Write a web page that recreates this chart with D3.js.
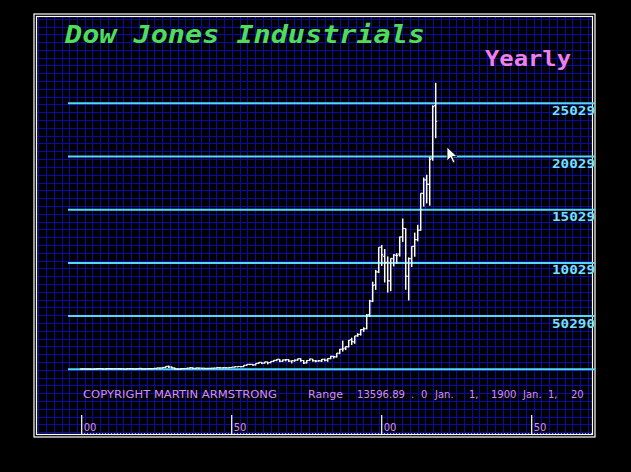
<!DOCTYPE html>
<html><head><meta charset="utf-8">
<script src="https://cdn.jsdelivr.net/npm/d3@7"></script>
<style>html,body{margin:0;padding:0;background:#000;overflow:hidden}</style>
</head><body>
<svg id="c" width="631" height="472"></svg>
<script>
const years = d3.range(1900, 2019);
const opens = [68.1,70.4,64.3,64,48,70,96,94,58.8,86,98,82,81,88,79,54.6,99,95,74,82,107,72,81,98,95,120,157,156,203,307,244,169,74.6,59.3,100,104.5,144,178.5,121,154,151,131,112,119.9,136,152.6,192,176.4,181,176,199,237,269,292,280,408,485,499,439,587,679,610,724,647,766,869,969,786,908,947,809,830,889,1031,855,632,858,999,817,811,824,972,882,1027,1252,1198,1537,1927,2015,2144,2810,2610,3172,3309,3756,3838,5177,6442,7965,9184,11501,10646,10073,8342,10409,10730,10847,12474,13262,8772,10430,11577,12221,13104,16572,17823,17405,19881,24809];
const highs = [71,78,68,67.7,73.2,96.6,103,96.4,88.4,100.5,98.3,87,94.2,88.6,83.4,99.2,110.2,99.2,89.1,119.6,109.9,81.5,103.4,105.4,120.5,159.4,166.6,202.4,300,381.2,294,194.4,88.8,108.7,110.7,148.4,184.9,194.4,158.4,155.9,152.8,133.6,119.7,145.8,152.5,195.8,212.5,186.9,193.2,200.5,235.5,276.4,292,293.8,404.4,488.4,521,520.8,583.7,679.4,685.5,734.9,726,767.2,891.7,969.3,995.2,943.1,985.2,968.9,842,950.8,1036,1051.7,891.7,881.8,1014.8,999.8,907.7,897.6,1000.2,1024,1070.6,1287,1286.6,1553,1955.6,2722.4,2183.5,2791.4,2999.8,3168.8,3413.2,3794.3,3978.4,5216.5,6560.9,8259.3,9374.3,11497,11723,11338,10635,10454,10855,10940.5,12510.6,14198,13279.5,10548.5,11585,12876,13610,16576.7,18053.7,18312.4,19974.6,24837.5,26951.8];
const lows = [53,61.5,59.6,42.2,46.4,68.8,85.2,53,58.6,79.9,73.6,72.9,80.2,72.1,53.2,54.2,85,65.9,73.4,79.2,66.8,63.9,78.6,85.8,88.3,115,135.2,152.7,191.3,198.7,157.5,73.8,41.2,50.2,85.5,96.7,143.1,113.6,99,121.4,111.8,106.3,92.9,119.3,134.2,151.4,163.1,163.2,165.4,161.6,196.8,239,256.4,255.5,279.9,388.2,462.4,419.8,436.9,574.5,566,610.3,535.8,646.8,766.1,840.6,744.3,786.4,825.1,769.9,631.2,798,889.3,788.3,577.6,632,858.7,800.9,742.1,796.7,759.1,824,776.9,1027,1086.6,1185,1502.3,1738.7,1879.1,2144.6,2365.1,2470.3,3136.6,3242,3593.4,3832.1,5000,6391.7,7539.1,9120.7,9796,8235.8,7286.3,7416.6,9749,10012,10667,12050,7552,6547,9686.5,10655,12101.5,13104,15372.8,15666.4,15450.6,19677.9,21792.2];
const closes = [70.7,64.6,64.3,49.1,69.6,96.2,94.4,59,86.2,99.1,81.4,81.7,87.9,79,54.6,99.2,95,74.4,82.2,107.2,72,81.1,98.7,95.5,120.5,156.7,157.2,202.4,300,248.5,164.6,77.9,59.9,99.9,104,144.1,179.9,120.9,154.8,150.2,131.1,111,119.4,135.9,152.3,192.9,177.2,181.2,177.3,200.1,235.4,269.2,291.9,280.9,404.4,488.4,499.5,435.7,583.7,679.4,615.9,731.1,652.1,763,874.1,969.3,785.7,905.1,943.8,800.4,838.9,890.2,1020,850.9,616.2,852.4,1004.7,831.2,805,838.7,964,875,1046.5,1258.6,1211.6,1546.7,1896,1938.8,2168.6,2753.2,2633.7,3168.8,3301.1,3754.1,3834.4,5117.1,6448.3,7908.3,9181.4,11497,10787,10021.5,8341.6,10453.9,10783,10717.5,12463,13264.8,8776.4,10428,11577.5,12217.6,13104,16576.7,17823,17425,19762.6,24719.2,23327.5];
const levelValues = [29, 5029, 10029, 15029, 20029, 25029];
const levelLabels = ["", "50290", "10029", "15029", "20029", "25029"];
const xTickYears = [1900, 1950, 2000, 2050];
const xTickLabels = ["00", "50", "00", "50"];
const title = "Dow Jones Industrials";
const periodLabel = "Yearly";
const copyright = "COPYRIGHT MARTIN ARMSTRONG";
const rangeParts = [["Range",308,35],["13596.89",357,48],[".",411,0],["0",421,0],["Jan.",435,0],["1,",469,0],["1900",491,0],["Jan.",523,0],["1,",548,0],["20",571,0]];

const svg = d3.select("#c");
svg.append("rect").attr("width",631).attr("height",472).attr("fill","#000");

// plot panel
const L=36, R=593, T=16, B=435;
svg.append("rect").attr("x",L).attr("y",T).attr("width",R-L).attr("height",B-T).attr("fill","#000");
const grid = svg.append("g").attr("stroke","#0a0aa6").attr("stroke-width",1);
for (let gx=38.3; gx<R; gx+=7.74) { const p=Math.round(gx)+0.5; grid.append("line").attr("x1",p).attr("x2",p).attr("y1",T).attr("y2",B); }
for (let gy=18.7; gy<B; gy+=7.8) { const p=Math.round(gy)+0.5; grid.append("line").attr("x1",L).attr("x2",R).attr("y1",p).attr("y2",p); }

// borders
svg.append("rect").attr("x",34).attr("y",14).attr("width",561).attr("height",423).attr("fill","none").attr("stroke","#fff").attr("stroke-width",1.2);
svg.append("rect").attr("x",36.5).attr("y",16.5).attr("width",556).attr("height",418).attr("fill","none").attr("stroke","#fff").attr("stroke-width",1.2);

const x = d3.scaleLinear().domain([1900, 2050]).range([81.7, 531.7]);
const y = d3.scaleLinear().domain([29, 25029]).range([369.3, 103.3]);

// level lines
svg.append("g").selectAll("line").data(levelValues).join("line")
  .attr("x1",68).attr("x2",595).attr("y1",d=>y(d)).attr("y2",d=>y(d))
  .attr("stroke","#55d8f8").attr("stroke-width",2);
svg.append("g").selectAll("text").data(levelValues.map((v,i)=>[v,levelLabels[i]]).filter(d=>d[1]))
  .join("text").attr("x",595).attr("y",d=>y(d[0])+11.5).attr("text-anchor","end")
  .attr("font-family","DejaVu Sans Mono").attr("font-weight","bold").attr("font-size",13)
  .attr("fill","#72e2f6").attr("textLength",43).attr("lengthAdjust","spacingAndGlyphs").text(d=>d[1]);

// bars
const bars = svg.append("g").attr("stroke","#fff").attr("fill","none");
years.forEach((yr,i)=>{
  const cx = x(yr);
  bars.append("line").attr("x1",cx).attr("x2",cx).attr("y1",y(highs[i])).attr("y2",y(lows[i])+0.5).attr("stroke-width",1.5);
  bars.append("line").attr("x1",cx-1.5).attr("x2",cx).attr("y1",y(opens[i])).attr("y2",y(opens[i])).attr("stroke-width",1.2);
  bars.append("line").attr("x1",cx).attr("x2",cx+1.5).attr("y1",y(closes[i])).attr("y2",y(closes[i])).attr("stroke-width",1.2);
});

// title
svg.append("text").attr("x",65).attr("y",43).attr("font-family","DejaVu Sans Mono").attr("font-weight","bold")
  .attr("font-style","italic").attr("font-size",24).attr("fill","#4fdc5a")
  .attr("textLength",360).attr("lengthAdjust","spacingAndGlyphs").text(title);
svg.append("text").attr("x",485).attr("y",66).attr("font-family","DejaVu Sans Mono").attr("font-weight","bold")
  .attr("font-size",21).attr("fill","#ee80ee").attr("textLength",86).attr("lengthAdjust","spacingAndGlyphs").text(periodLabel);

// bottom texts
const txtCol = "#d88ee8";
svg.append("text").attr("x",83).attr("y",398).attr("font-family","DejaVu Sans").attr("font-size",10)
  .attr("fill",txtCol).attr("textLength",194).attr("lengthAdjust","spacingAndGlyphs").text(copyright);
const rp = svg.append("g").selectAll("text").data(rangeParts).join("text").attr("x",d=>d[1]).attr("y",398)
  .attr("font-family","DejaVu Sans").attr("font-size",10).attr("fill",txtCol).text(d=>d[0]);
rp.filter(d=>d[2]>0).attr("textLength",d=>d[2]).attr("lengthAdjust","spacingAndGlyphs");

// x ticks
const xt = svg.append("g");
xt.selectAll("line").data(xTickYears).join("line").attr("x1",d=>x(d)).attr("x2",d=>x(d))
  .attr("y1",415).attr("y2",435).attr("stroke","#fff").attr("stroke-width",1.2);
xt.selectAll("text").data(xTickYears.map((v,i)=>[v,xTickLabels[i]])).join("text")
  .attr("x",d=>x(d[0])+2).attr("y",431).attr("font-family","DejaVu Sans").attr("font-size",10)
  .attr("fill",txtCol).text(d=>d[1]);
svg.append("line").attr("x1",81).attr("x2",593).attr("y1",433.5).attr("y2",433.5)
  .attr("stroke","#fff").attr("stroke-width",1).attr("stroke-dasharray","1,2").attr("opacity",0.6);

// mouse cursor
svg.append("path").attr("d","M447,147 L447,161 L450.5,157.5 L453,163 L455,162 L452.5,156.5 L457,156.5 Z")
  .attr("fill","#fff").attr("stroke","#000").attr("stroke-width",0.8);
</script>
</body></html>
